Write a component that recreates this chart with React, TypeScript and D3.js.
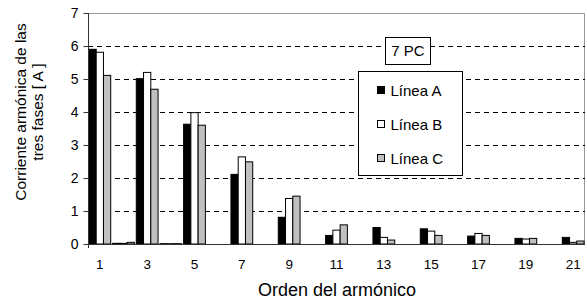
import React, { useEffect, useRef } from "react";
import * as d3 from "d3";

// harmonic order 1..21
const orders = d3.range(1, 22).map(String);
const labelOrders = ["1", "3", "5", "7", "9", "11", "13", "15", "17", "19", "21"];
const seriesNames = ["Línea A", "Línea B", "Línea C"];
const seriesColors = ["#000000", "#ffffff", "#c0c0c0"];

const lineA = [5.9, 0.02, 5.01, 0.01, 3.63, 0, 2.11, 0, 0.81, 0, 0.26, 0, 0.5, 0, 0.46, 0, 0.24, 0, 0.17, 0, 0.2];
const lineB = [5.81, 0.02, 5.2, 0.01, 3.98, 0, 2.64, 0, 1.38, 0, 0.42, 0, 0.2, 0, 0.39, 0, 0.32, 0, 0.15, 0, 0.05];
const lineC = [5.11, 0.05, 4.69, 0.01, 3.6, 0, 2.49, 0, 1.45, 0, 0.58, 0, 0.12, 0, 0.26, 0, 0.26, 0, 0.17, 0, 0.09];
const yTicks = [0, 1, 2, 3, 4, 5, 6, 7];

const App = () => {
  const ref = useRef<SVGSVGElement>(null);

  useEffect(() => {
    const svg = d3.select(ref.current);
    svg.selectAll("*").remove();

    const margin = { top: 13, right: 2, bottom: 56, left: 88 };
    const W = 587, H = 300;
    const w = W - margin.left - margin.right;
    const h = H - margin.top - margin.bottom;
    const font = "'Liberation Sans', Arial, sans-serif";

    const g = svg.append("g").attr("transform", `translate(${margin.left},${margin.top})`);

    const x = d3.scaleBand().domain(orders).range([0, w]).paddingInner(0.08).paddingOuter(0.04);
    const x1 = d3.scaleBand().domain(seriesNames).range([0, x.bandwidth()]);
    const y = d3.scaleLinear().domain([0, 7]).range([h, 0]);

    // plot border (top/right)
    g.append("path")
      .attr("d", `M0,0.5H${w - 0.5}V${h}`)
      .attr("fill", "none")
      .attr("stroke", "#999");

    // gridlines
    g.selectAll(".grid")
      .data(yTicks.filter((t) => t > 0 && t < 7))
      .join("line")
      .attr("x1", 0)
      .attr("x2", w)
      .attr("y1", (d) => Math.round(y(d)) + 0.5)
      .attr("y2", (d) => Math.round(y(d)) + 0.5)
      .attr("stroke", "#000")
      .attr("stroke-dasharray", "5,4");

    // bars
    const all = [lineA, lineB, lineC];
    seriesNames.forEach((s, si) => {
      g.selectAll(".bar" + si)
        .data(orders)
        .join("rect")
        .attr("x", (d) => (x(d) as number) + (x1(s) as number))
        .attr("y", (d, i) => y(all[si][i]))
        .attr("width", x1.bandwidth())
        .attr("height", (d, i) => h - y(all[si][i]))
        .attr("fill", seriesColors[si])
        .attr("stroke", "#000")
        .attr("stroke-width", 1);
    });

    // y axis
    const ya = g.append("g")
      .attr("transform", "translate(0.5,0)")
      .call(d3.axisLeft(y).tickValues(yTicks).tickSize(5).tickPadding(5).tickFormat(d3.format("d")));
    ya.select(".domain").attr("stroke", "#333").attr("d", `M0,0V${h + 4}`);
    ya.selectAll(".tick line").attr("stroke", "#333");
    ya.selectAll("text").attr("font-family", font).attr("font-size", 14).attr("fill", "#000");

    // x axis
    const xa = g.append("g")
      .attr("transform", `translate(0,${h + 0.5})`)
      .call(d3.axisBottom(x).tickValues(labelOrders).tickSize(0).tickPadding(15));
    xa.select(".domain").attr("stroke", "#333").attr("d", `M0,0H${w}`);
    xa.selectAll("text").attr("font-family", font).attr("font-size", 13.5).attr("fill", "#000");

    // axis titles
    svg.append("text")
      .attr("x", 337)
      .attr("y", 296)
      .attr("text-anchor", "middle")
      .attr("font-family", font)
      .attr("font-size", 18)
      .text("Orden del armónico");

    const yl = svg.append("text")
      .attr("transform", "translate(26,112) rotate(-90)")
      .attr("text-anchor", "middle")
      .attr("font-family", font)
      .attr("font-size", 15.5);
    yl.append("tspan").attr("x", 0).attr("dy", 0).text("Corriente armónica de las");
    yl.append("tspan").attr("x", 0).attr("dy", 17).text("tres fases [ A ]");

    // "7 PC" label box
    const pc = svg.append("g").attr("transform", "translate(385.5,37.5)");
    pc.append("rect").attr("width", 45).attr("height", 27).attr("fill", "#fff").attr("stroke", "#000");
    pc.append("text")
      .attr("x", 22.5)
      .attr("y", 18.5)
      .attr("text-anchor", "middle")
      .attr("font-family", font)
      .attr("font-size", 15)
      .text("7 PC");

    // legend
    const lg = svg.append("g").attr("transform", "translate(358.5,71.5)");
    lg.append("rect").attr("width", 104).attr("height", 104).attr("fill", "#fff").attr("stroke", "#000");
    seriesNames.forEach((s, i) => {
      const row = lg.append("g").attr("transform", `translate(19,${15 + i * 34})`);
      row.append("rect").attr("width", 7).attr("height", 7).attr("fill", seriesColors[i]).attr("stroke", "#000");
      row.append("text")
        .attr("x", 13)
        .attr("y", 9)
        .attr("font-family", font)
        .attr("font-size", 15)
        .text(s);
    });
  }, []);

  return <svg ref={ref} width={587} height={300} style={{ position: "absolute", left: 0, top: 0, background: "#fff" }} />;
};

export default App;
